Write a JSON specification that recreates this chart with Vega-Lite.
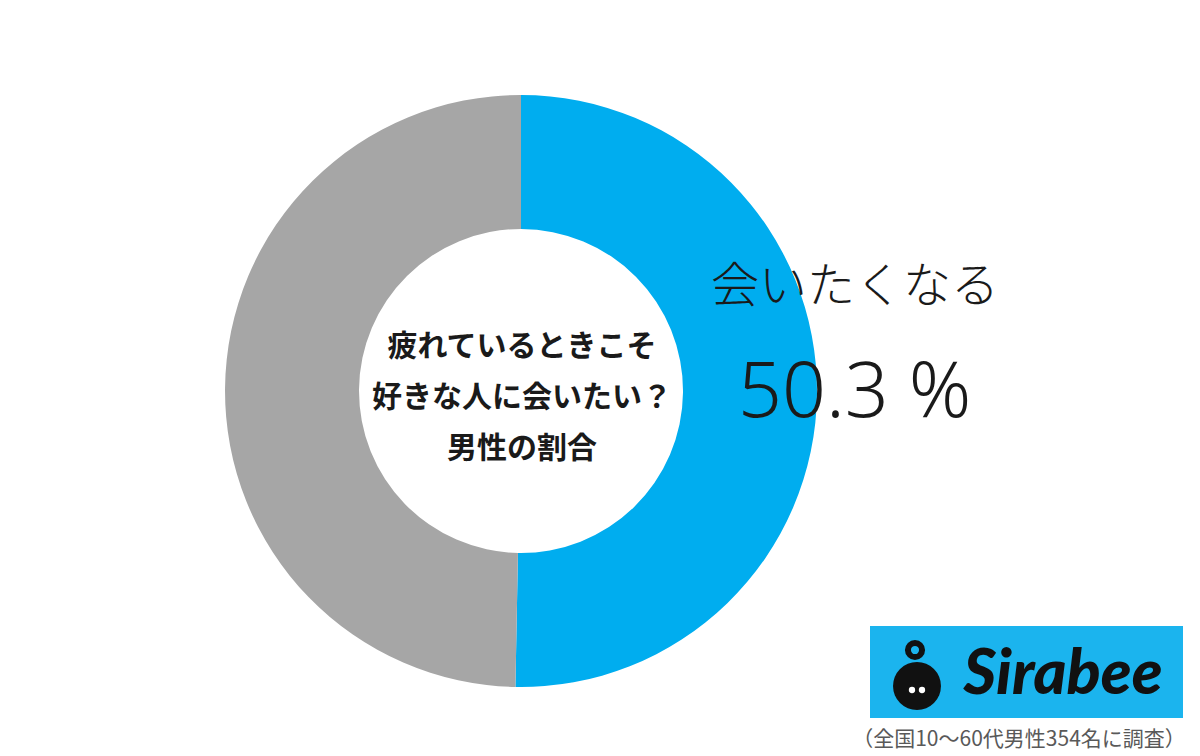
{
  "$schema": "https://vega.github.io/schema/vega-lite/v6.json",
  "width": 1042,
  "height": 730,
  "autosize": {"type": "none"},
  "padding": {"left": 0, "top": 26, "right": 158, "bottom": 0},
  "background": "white",
  "config": {"view": {"stroke": null}, "font": "Noto Sans CJK JP"},
  "layer": [
    {
      "data": {"values": [
        {"category": "会いたくなる", "value": 50.3, "rank": 1},
        {"category": "会いたくならない", "value": 49.7, "rank": 2}
      ]},
      "mark": {"type": "arc", "innerRadius": 162, "outerRadius": 296},
      "encoding": {
        "theta": {"field": "value", "type": "quantitative", "stack": true},
        "order": {"field": "rank", "type": "quantitative"},
        "color": {"field": "category", "type": "nominal", "legend": null,
          "scale": {"domain": ["会いたくなる", "会いたくならない"], "range": ["#00ADEF", "#A6A6A6"]}}
      }
    },
    {
      "data": {"values": [{"label": ["疲れているときこそ", "好きな人に会いたい？", "男性の割合"]}]},
      "mark": {"type": "text", "x": 522, "y": 321, "align": "center", "baseline": "middle", "fontSize": 30, "fontWeight": "bold", "lineHeight": 51, "color": "#1a1a1a"},
      "encoding": {"text": {"field": "label"}}
    },
    {
      "data": {"values": [{"label": "会いたくなる"}]},
      "mark": {"type": "text", "x": 711, "y": 262, "align": "left", "baseline": "middle", "fontSize": 48, "fontWeight": 300, "color": "#1a1a1a"},
      "encoding": {"text": {"field": "label"}}
    },
    {
      "data": {"values": [{"label": "50.3 %"}]},
      "mark": {"type": "text", "x": 738, "y": 391, "align": "left", "baseline": "alphabetic", "fontSize": 77, "fontWeight": 300, "font": "Noto Sans", "color": "#1a1a1a"},
      "encoding": {"text": {"field": "label"}}
    },
    {
      "data": {"values": [{"label": "Sirabee"}]},
      "mark": {"type": "rect", "x": 870, "x2": 1183, "y": 600, "y2": 692, "color": "#1BB4EE"},
      "encoding": {}
    },
    {
      "data": {"values": [{"label": "Sirabee"}]},
      "mark": {"type": "text", "x": 1063, "y": 668, "align": "center", "baseline": "alphabetic", "fontSize": 63, "fontWeight": 900, "fontStyle": "italic", "font": "Lato", "color": "#111111"},
      "encoding": {"text": {"field": "label"}}
    },
    {
      "data": {"values": [{"label": "logo"}]},
      "mark": {"type": "point", "shape": "circle", "x": 917, "y": 660, "size": 2300, "filled": true, "color": "#111111", "opacity": 1},
      "encoding": {}
    },
    {
      "data": {"values": [{"label": "logo"}]},
      "mark": {"type": "point", "shape": "circle", "x": 915, "y": 624, "size": 200, "filled": false, "color": "#111111", "strokeWidth": 6, "opacity": 1},
      "encoding": {}
    },
    {
      "data": {"values": [{"label": "logo"}]},
      "mark": {"type": "point", "shape": "circle", "x": 912, "y": 664, "size": 40, "filled": true, "color": "white", "opacity": 1},
      "encoding": {}
    },
    {
      "data": {"values": [{"label": "logo"}]},
      "mark": {"type": "point", "shape": "circle", "x": 922, "y": 664, "size": 40, "filled": true, "color": "white", "opacity": 1},
      "encoding": {}
    },
    {
      "data": {"values": [{"label": "（全国10～60代男性354名に調査）"}]},
      "mark": {"type": "text", "x": 1019, "y": 714, "align": "center", "baseline": "middle", "fontSize": 21, "color": "#595959"},
      "encoding": {"text": {"field": "label"}}
    }
  ]
}
